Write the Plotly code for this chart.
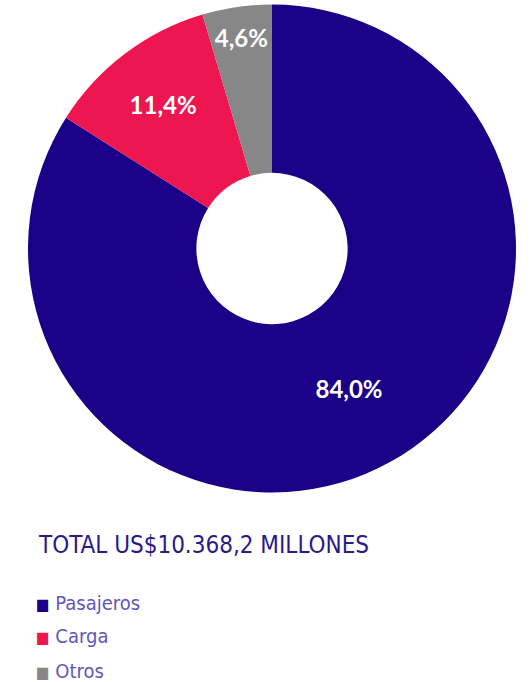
import plotly.graph_objects as go

labels = ["Pasajeros", "Carga", "Otros"]
values = [84.0, 11.4, 4.6]
colors = ["#1B0088", "#ED1650", "#878787"]
title_text = "TOTAL US$10.368,2 MILLONES"

pct_text = [f"{v:.1f}".replace(".", ",") + "%" for v in values]

W, H = 531, 682
cx, cy, R = 272, 248.5, 244

fig = go.Figure()
fig.add_trace(go.Pie(
    labels=labels,
    values=values,
    text=pct_text,
    textinfo="text",
    hole=0.31,
    sort=False,
    direction="clockwise",
    rotation=0,
    marker=dict(colors=colors, line=dict(width=0)),
    textposition="inside",
    insidetextorientation="horizontal",
    textfont=dict(family="Lato, Noto Sans, sans-serif", size=24, color="white", weight="bold"),
    domain=dict(x=[(cx - R) / W, (cx + R) / W], y=[1 - (cy + R) / H, 1 - (cy - R) / H]),
    showlegend=False,
))

font_narrow = "Liberation Sans Narrow, DejaVu Sans Condensed, Lato, sans-serif"

annotations = [dict(
    text=title_text, x=36 / W, y=1 - 545 / H, xref="paper", yref="paper",
    xanchor="left", yanchor="middle", showarrow=False,
    font=dict(family=font_narrow, size=24, color="#2A1A8A"),
)]
legend_y = [603, 636, 671]
for lab, col, yy in zip(labels, colors, legend_y):
    annotations.append(dict(
        text=f"<span style='color:{col};font-size:16px'>■</span> {lab}",
        x=34 / W, y=1 - yy / H, xref="paper", yref="paper",
        xanchor="left", yanchor="middle", showarrow=False,
        font=dict(family=font_narrow, size=20, color="#6356BA"),
    ))

fig.update_layout(
    width=W, height=H,
    margin=dict(l=0, r=0, t=0, b=0),
    paper_bgcolor="white",
    plot_bgcolor="white",
    annotations=annotations,
)

fig.write_html("out.html", config={"displayModeBar": False},
               post_script="document.body.style.margin='0';document.body.style.padding='0';")
